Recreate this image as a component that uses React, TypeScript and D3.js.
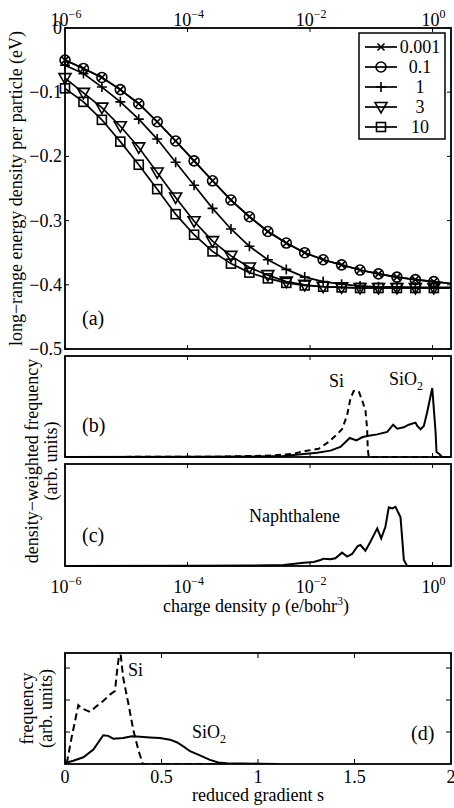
import React from 'react';
import * as d3 from 'd3';

// ---------- data ----------
const rhoMarkers = [1e-6, 2e-6, 4e-6, 8e-6, 1.6e-5, 3.2e-5, 6.4e-5, 1.28e-4, 2.56e-4, 5.12e-4, 1.024e-3, 2.048e-3, 4.096e-3, 8.192e-3, 1.6384e-2, 3.2768e-2, 6.5536e-2, 0.131072, 0.262144, 0.524288, 1.048576];
const rhoEdge = 2;
const seriesNames = ['0.001', '0.1', '1', '3', '10'];
const e0001 = [-0.050, -0.063, -0.077, -0.096, -0.118, -0.146, -0.176, -0.207, -0.238, -0.268, -0.294, -0.317, -0.335, -0.350, -0.361, -0.369, -0.377, -0.383, -0.388, -0.392, -0.395];
const e01 = [-0.050, -0.063, -0.077, -0.096, -0.118, -0.146, -0.176, -0.207, -0.238, -0.268, -0.294, -0.317, -0.335, -0.350, -0.361, -0.369, -0.377, -0.383, -0.388, -0.392, -0.395];
const e1 = [-0.058, -0.071, -0.092, -0.115, -0.142, -0.173, -0.209, -0.245, -0.281, -0.313, -0.340, -0.361, -0.376, -0.388, -0.395, -0.399, -0.402, -0.403, -0.403, -0.404, -0.404];
const e3 = [-0.078, -0.101, -0.124, -0.153, -0.186, -0.225, -0.264, -0.301, -0.332, -0.355, -0.373, -0.385, -0.395, -0.400, -0.403, -0.404, -0.405, -0.405, -0.405, -0.405, -0.405];
const e10 = [-0.094, -0.115, -0.143, -0.177, -0.213, -0.251, -0.290, -0.322, -0.348, -0.367, -0.381, -0.390, -0.397, -0.401, -0.403, -0.404, -0.405, -0.405, -0.405, -0.405, -0.405];
const edgeVals = [-0.398, -0.398, -0.404, -0.405, -0.405];
const markerKinds = ['x', 'o', '+', 'v', 's'];

const yTicksA = [0, -0.1, -0.2, -0.3, -0.4, -0.5];
const yTickLabelsA = ['0', '−0.1', '−0.2', '−0.3', '−0.4', '−0.5'];
const rhoTicks = [1e-6, 1e-4, 1e-2, 1];
const rhoTickExp = ['−6', '−4', '−2', '0'];

const sio2Rho = [1e-6, 1.6e-4, 1.06e-3, 3.7e-3, 7.9e-3, 1.3e-2, 2.15e-2, 3.13e-2, 4.45e-2, 5.71e-2, 7.08e-2, 8.55e-2, 0.125, 0.182, 0.228, 0.265, 0.34, 0.409, 0.527, 0.562, 0.637, 0.721, 0.818, 0.989, 1.12, 1.16, 1.27, 1.44, 2];
const sio2Freq = [0, 0.002, 0.005, 0.010, 0.030, 0.043, 0.063, 0.099, 0.188, 0.165, 0.195, 0.208, 0.224, 0.248, 0.320, 0.281, 0.294, 0.320, 0.340, 0.307, 0.274, 0.307, 0.446, 0.683, 0.248, 0.050, 0.033, 0, 0];
const siRho = [1e-6, 3.2e-4, 2.5e-3, 5.4e-3, 8.4e-3, 1.38e-2, 2.01e-2, 2.83e-2, 3.33e-2, 4.03e-2, 4.56e-2, 5.16e-2, 6.24e-2, 7.08e-2, 8.02e-2, 8.55e-2, 8.75e-2, 9.08e-2, 2];
const siFreq = [0, 0.003, 0.015, 0.033, 0.059, 0.082, 0.149, 0.231, 0.275, 0.413, 0.577, 0.653, 0.650, 0.561, 0.462, 0.280, 0.083, 0, 0];
const naphRho = [1e-6, 1.6e-4, 1.06e-3, 3.7e-3, 7.9e-3, 1.15e-2, 1.48e-2, 1.67e-2, 2.15e-2, 2.59e-2, 3.33e-2, 4.03e-2, 4.86e-2, 6.0e-2, 6.65e-2, 8.02e-2, 9.68e-2, 0.125, 0.145, 0.170, 0.193, 0.219, 0.248, 0.300, 0.340, 0.385, 2];
const naphFreq = [0, 0.002, 0.004, 0.010, 0.032, 0.039, 0.059, 0.072, 0.066, 0.075, 0.131, 0.092, 0.118, 0.196, 0.206, 0.150, 0.238, 0.369, 0.271, 0.385, 0.575, 0.565, 0.581, 0.477, 0.059, 0, 0];

const sSio2 = [0, 0.043, 0.095, 0.147, 0.198, 0.224, 0.250, 0.302, 0.346, 0.389, 0.440, 0.492, 0.544, 0.579, 0.613, 0.648, 0.699, 0.751, 0.794, 0.838, 1.01, 1.1];
const fSio2 = [0.03, 0.10, 0.21, 0.45, 0.90, 0.88, 0.79, 0.81, 0.87, 0.85, 0.83, 0.81, 0.76, 0.68, 0.55, 0.40, 0.27, 0.13, 0.05, 0.02, 0.01, 0];
const sSi = [0.009, 0.035, 0.069, 0.087, 0.130, 0.164, 0.198, 0.233, 0.259, 0.271, 0.285, 0.302, 0.328, 0.354, 0.380, 0.403, 1.0];
const fSi = [0.02, 0.85, 1.84, 1.74, 1.63, 1.81, 1.97, 2.17, 2.28, 2.98, 3.6, 2.68, 1.90, 1.06, 0.44, 0, 0];
const sTicks = [0, 0.5, 1, 1.5, 2];
const sTickLabels = ['0', '0.5', '1', '1.5', '2'];
const fTicksD = [1, 2, 3];

// ---------- layout ----------
const W = 454, H = 808;
const L = 65, R = 451;
const A = { t: 28, b: 349 };
const B = { t: 356, b: 457 };
const C = { t: 464, b: 566 };
const D = { t: 653, b: 764 };
const FONT = "Liberation Serif, Times New Roman, serif";
const FS = 18;
const FP = 20;

function Marker({ kind, x, y }: { kind: string; x: number; y: number }) {
  const st = { fill: 'none', stroke: '#000', strokeWidth: 1.6 };
  if (kind === 'x') return <path d={`M${x - 3.5},${y - 3.5}L${x + 3.5},${y + 3.5}M${x - 3.5},${y + 3.5}L${x + 3.5},${y - 3.5}`} {...st} />;
  if (kind === 'o') return <circle cx={x} cy={y} r={5} {...st} />;
  if (kind === '+') return <path d={`M${x - 5},${y}L${x + 5},${y}M${x},${y - 5}L${x},${y + 5}`} {...st} />;
  if (kind === 'v') return <path d={`M${x - 6},${y - 4.5}L${x + 6},${y - 4.5}L${x},${y + 6}Z`} {...st} />;
  return <rect x={x - 4.5} y={y - 4.5} width={9} height={9} {...st} />;
}

function Exp10({ x, y, exp }: { x: number; y: number; exp: string }) {
  return (
    <text x={x} y={y} textAnchor="middle" fontSize={FS} fontFamily={FONT}>
      10<tspan dy={-8} fontSize={12}>{exp}</tspan>
    </text>
  );
}

export default function App() {
  const xLog = d3.scaleLog().domain([1e-6, 2]).range([L, R]);
  const yA = d3.scaleLinear().domain([-0.5, 0]).range([A.b, A.t]);
  const yB = d3.scaleLinear().domain([0, 1]).range([B.b, B.t]);
  const yC = d3.scaleLinear().domain([0, 1]).range([C.b, C.t]);
  const xS = d3.scaleLinear().domain([0, 2]).range([L, R]);
  const yD = d3.scaleLinear().domain([0, 3.47]).range([D.b, D.t]);

  const series = [e0001, e01, e1, e3, e10];
  const lineA = d3.line<[number, number]>().x(d => xLog(d[0])).y(d => yA(d[1]));
  const lineB = (xs: number[], ys: number[]) => d3.line<number>().x((_, i) => xLog(xs[i])).y((_, i) => yB(ys[i]))(xs) || '';
  const lineC = (xs: number[], ys: number[]) => d3.line<number>().x((_, i) => xLog(xs[i])).y((_, i) => yC(ys[i]))(xs) || '';
  const lineD = (xs: number[], ys: number[]) => d3.line<number>().x((_, i) => xS(xs[i])).y((_, i) => yD(ys[i]))(xs) || '';

  const box = (p: { t: number; b: number }) => (
    <rect x={L} y={p.t} width={R - L} height={p.b - p.t} fill="none" stroke="#000" strokeWidth={1.8} />
  );
  const xTicksLog = (p: { t: number; b: number }) =>
    rhoTicks.map((t, i) => (
      <g key={i}>
        <line x1={xLog(t)} x2={xLog(t)} y1={p.b} y2={p.b - 4} stroke="#000" strokeWidth={1} />
        <line x1={xLog(t)} x2={xLog(t)} y1={p.t} y2={p.t + 4} stroke="#000" strokeWidth={1} />
      </g>
    ));

  const legendY = [47, 67, 87, 107, 127];

  return (
    <svg width={W} height={H} style={{ position: 'absolute', left: 0, top: 0, background: '#fff' }} fontFamily={FONT}>
      <rect width={W} height={H} fill="#fff" />
      <defs>
        <clipPath id="clipA"><rect x={L} y={A.t} width={R - L} height={A.b - A.t} /></clipPath>
        <clipPath id="clipD"><rect x={L} y={D.t} width={R - L} height={D.b - D.t} /></clipPath>
      </defs>

      {/* ---------- panel a ---------- */}
      {xTicksLog(A)}
      {yTicksA.map((t, i) => (
        <g key={i}>
          <line x1={L} x2={L + 4} y1={yA(t)} y2={yA(t)} stroke="#000" strokeWidth={1} />
          <line x1={R} x2={R - 4} y1={yA(t)} y2={yA(t)} stroke="#000" strokeWidth={1} />
          <text x={62} y={yA(t) + 6} textAnchor="end" fontSize={FS}>{yTickLabelsA[i]}</text>
        </g>
      ))}
      {rhoTicks.map((t, i) => <Exp10 key={i} x={xLog(t) + 1} y={26} exp={rhoTickExp[i]} />)}
      <g clipPath="url(#clipA)">
        {series.map((s, k) => {
          const pts: [number, number][] = rhoMarkers.map((r, i) => [r, s[i]]);
          pts.push([rhoEdge, edgeVals[k]]);
          return <path key={k} d={lineA(pts) || ''} fill="none" stroke="#000" strokeWidth={1.7} />;
        })}
      </g>
      {series.map((s, k) => (
        <g key={k}>
          {rhoMarkers.map((r, i) => <Marker key={i} kind={markerKinds[k]} x={xLog(r)} y={yA(s[i])} />)}
        </g>
      ))}
      {box(A)}
      <text x={82} y={325} fontSize={FP}>(a)</text>
      {/* legend */}
      <rect x={359} y={33} width={86} height={106} fill="#fff" stroke="#000" strokeWidth={1.5} />
      {seriesNames.map((n, k) => (
        <g key={k}>
          <line x1={365} x2={397} y1={legendY[k]} y2={legendY[k]} stroke="#000" strokeWidth={1.7} />
          <Marker kind={markerKinds[k]} x={381} y={legendY[k]} />
          <text x={420} y={legendY[k] + 6} textAnchor="middle" fontSize={FS}>{n}</text>
        </g>
      ))}
      <text transform={`translate(22,${(A.t + A.b) / 2}) rotate(-90)`} textAnchor="middle" fontSize={FS}>
        long−range energy density per particle (eV)
      </text>

      {/* ---------- panel b ---------- */}
      {xTicksLog(B)}
      <path d={lineB(siRho, siFreq)} fill="none" stroke="#000" strokeWidth={2} strokeDasharray="6,4" />
      <path d={lineB(sio2Rho, sio2Freq)} fill="none" stroke="#000" strokeWidth={2} />
      {box(B)}
      <text x={82} y={432} fontSize={FP}>(b)</text>
      <text x={329} y={387} fontSize={FS}>Si</text>
      <text x={389} y={385} fontSize={FS}>SiO<tspan dy={5} fontSize={12}>2</tspan></text>

      {/* ---------- panel c ---------- */}
      {xTicksLog(C)}
      <path d={lineC(naphRho, naphFreq)} fill="none" stroke="#000" strokeWidth={2} />
      {box(C)}
      <text x={82} y={542} fontSize={FP}>(c)</text>
      <text x={249} y={522} fontSize={FS}>Naphthalene</text>
      {rhoTicks.map((t, i) => <Exp10 key={i} x={xLog(t) + 1} y={593} exp={rhoTickExp[i]} />)}
      <text x={(L + R) / 2 - 2} y={612} textAnchor="middle" fontSize={FS}>
        charge density ρ (e/bohr<tspan dy={-7} fontSize={12}>3</tspan><tspan dy={7}>)</tspan>
      </text>
      <text transform={`translate(38,${(B.t + C.b) / 2}) rotate(-90)`} textAnchor="middle" fontSize={FS}>
        density−weighted frequency
      </text>
      <text transform={`translate(57,${(B.t + C.b) / 2}) rotate(-90)`} textAnchor="middle" fontSize={FS}>
        (arb. units)
      </text>

      {/* ---------- panel d ---------- */}
      {sTicks.map((t, i) => (
        <g key={i}>
          <line x1={xS(t)} x2={xS(t)} y1={D.b} y2={D.b - 5} stroke="#000" strokeWidth={1} />
          <line x1={xS(t)} x2={xS(t)} y1={D.t} y2={D.t + 5} stroke="#000" strokeWidth={1} />
          <text x={xS(t)} y={783} textAnchor="middle" fontSize={FS}>{sTickLabels[i]}</text>
        </g>
      ))}
      {fTicksD.map((t, i) => (
        <g key={i}>
          <line x1={L} x2={L + 5} y1={yD(t)} y2={yD(t)} stroke="#000" strokeWidth={1} />
          <line x1={R} x2={R - 5} y1={yD(t)} y2={yD(t)} stroke="#000" strokeWidth={1} />
        </g>
      ))}
      <g clipPath="url(#clipD)">
        <path d={lineD(sSi, fSi)} fill="none" stroke="#000" strokeWidth={2} strokeDasharray="7,4" />
        <path d={lineD(sSio2, fSio2)} fill="none" stroke="#000" strokeWidth={2} />
      </g>
      {box(D)}
      <text x={128} y={676} fontSize={FS}>Si</text>
      <text x={192} y={738} fontSize={FS}>SiO<tspan dy={5} fontSize={12}>2</tspan></text>
      <text x={411} y={740} fontSize={FP}>(d)</text>
      <text x={(L + R) / 2} y={801} textAnchor="middle" fontSize={FS}>reduced gradient s</text>
      <text transform={`translate(33,${(D.t + D.b) / 2}) rotate(-90)`} textAnchor="middle" fontSize={FS}>frequency</text>
      <text transform={`translate(52,${(D.t + D.b) / 2}) rotate(-90)`} textAnchor="middle" fontSize={FS}>(arb. units)</text>
    </svg>
  );
}
